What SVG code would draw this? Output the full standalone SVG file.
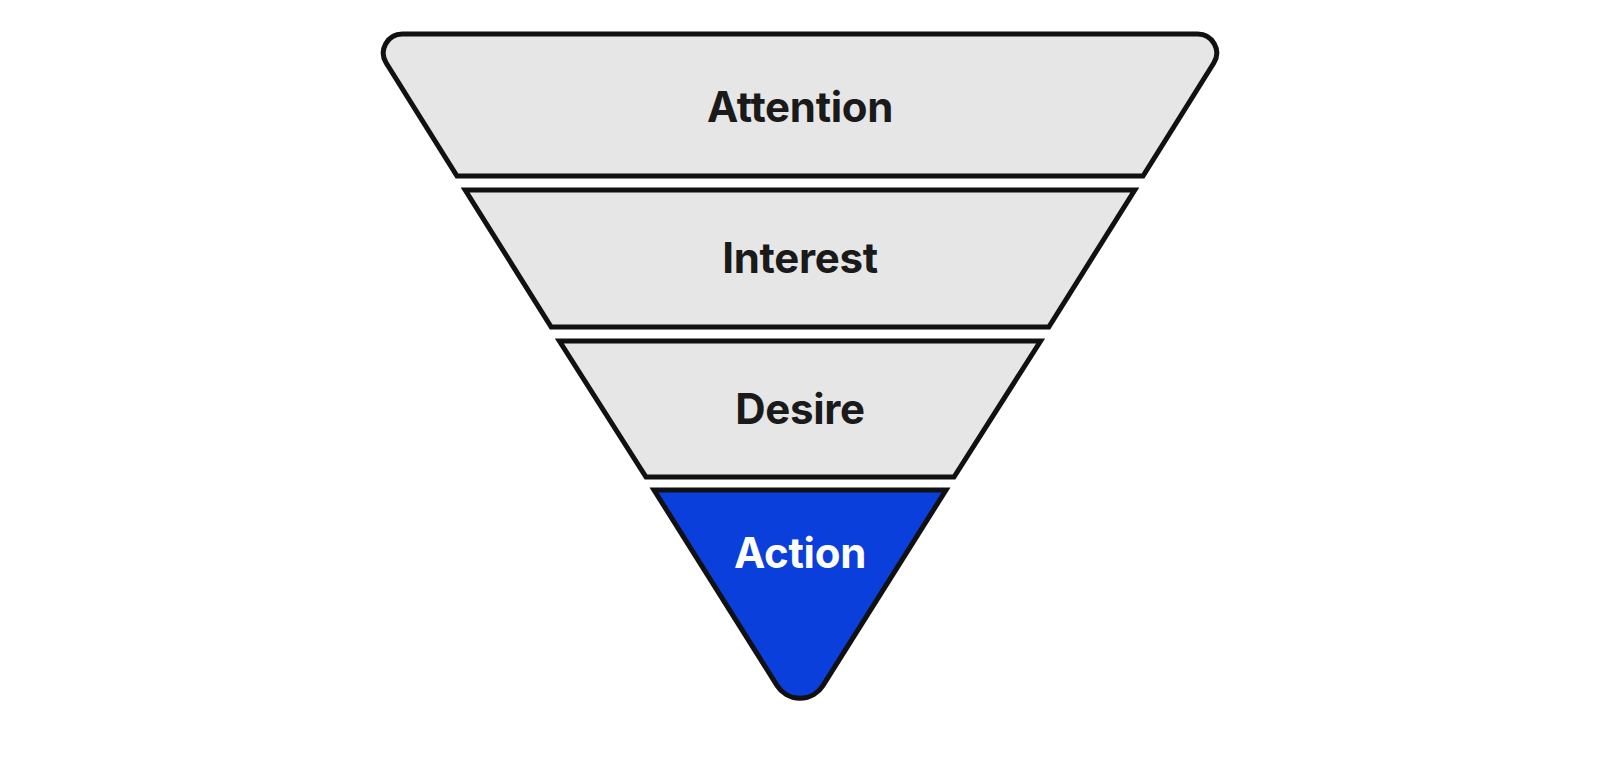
<svg xmlns="http://www.w3.org/2000/svg" width="1600" height="760" viewBox="0 0 1600 760">
  <style>
    .band { fill: #e6e6e6; stroke: #111111; stroke-width: 5; stroke-linejoin: miter; stroke-miterlimit: 10; }
    .action { fill: #0a3fdb; stroke: #111111; stroke-width: 5; stroke-linejoin: miter; stroke-miterlimit: 10; }
    .lbl { font-family: Inter, "Liberation Sans", sans-serif; font-weight: 700; font-size: 42px; text-anchor: middle; fill: #1a1a1a; letter-spacing: -0.3px; }
    .lbl-w { fill: #ffffff; }
  </style>
  <rect width="1600" height="760" fill="#ffffff"/>
  <g id="attention">
    <path class="band" d="M 402.3 34 L 1197.7 34 A 19 19 0 0 1 1213.8 63 L 1143 176 L 457 176 L 386.2 63 A 19 19 0 0 1 402.3 34 Z"/>
    <text class="lbl" x="800" y="122">Attention</text>
  </g>
  <g id="interest">
    <path class="band" d="M 465.2 190 L 1134.8 190 L 1048.8 327 L 551.2 327 Z"/>
    <text class="lbl" x="800" y="273">Interest</text>
  </g>
  <g id="desire">
    <path class="band" d="M 559.4 341 L 1040.6 341 L 954 477 L 646 477 Z"/>
    <text class="lbl" x="800" y="424">Desire</text>
  </g>
  <g id="action">
    <path class="action" d="M 654 490 L 946 490 L 822.9 685.6 A 27 27 0 0 1 777.1 685.6 Z"/>
    <text class="lbl lbl-w" x="800" y="568">Action</text>
  </g>
  <g id="connectors"/>
</svg>
